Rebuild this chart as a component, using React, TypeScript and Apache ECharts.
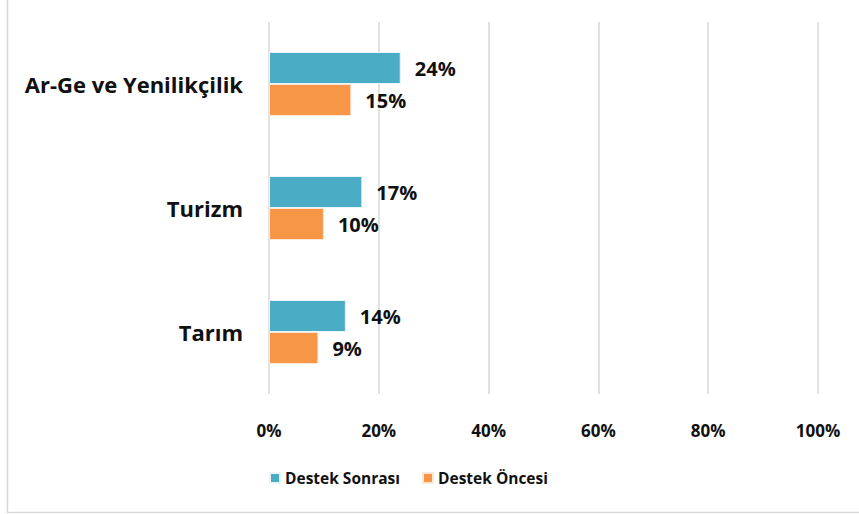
import React, { useEffect, useRef } from "react";
import * as echarts from "echarts";

const categories = ["Tarım", "Turizm", "Ar-Ge ve Yenilikçilik"];
const sonrasi = [14, 17, 24];
const oncesi = [9, 10, 15];
const seriesNames = ["Destek Sonrası", "Destek Öncesi"];

const FONT = "'Open Sans', Lato, sans-serif";

export default function App() {
  const ref = useRef<HTMLDivElement>(null);
  useEffect(() => {
    document.body.style.margin = "0";
    const chart = echarts.init(ref.current!, undefined, { renderer: "svg" });
    const labelCfg = {
      show: true,
      position: "right" as const,
      distance: 14,
      formatter: "{c}%",
      fontFamily: FONT,
      fontWeight: "bold" as const,
      fontSize: 20,
      color: "#111",
    };
    chart.setOption({
      animation: false,
      backgroundColor: "#fff",
      textStyle: { fontFamily: FONT },
      grid: { left: 269, right: 41, top: 22, bottom: 120, containLabel: false },
      legend: {
        left: 264,
        top: 465,
        itemWidth: 10,
        itemHeight: 10,
        itemGap: 22,
        icon: "rect",
        textStyle: { fontFamily: FONT, fontWeight: "bold", fontSize: 15.5, color: "#111" },
        data: seriesNames,
      },
      xAxis: {
        type: "value",
        min: 0,
        max: 100,
        interval: 20,
        axisLine: { show: false },
        axisTick: { show: false },
        splitLine: { lineStyle: { color: "#d9d9d9", width: 1.5 } },
        axisLabel: {
          formatter: "{value}%",
          margin: 28,
          fontFamily: FONT,
          fontWeight: "bold",
          fontSize: 17,
          color: "#111",
        },
      },
      yAxis: {
        type: "category",
        data: categories,
        axisLine: { show: false },
        axisTick: { show: false },
        axisLabel: {
          margin: 26,
          fontFamily: FONT,
          fontWeight: "bold",
          fontSize: 22,
          color: "#111",
        },
      },
      series: [
        {
          name: seriesNames[0],
          type: "bar",
          data: sonrasi,
          barWidth: 32,
          barGap: "0%",
          itemStyle: { color: "#4BACC6", borderColor: "#e8f4f8", borderWidth: 1 },
          label: labelCfg,
        },
        {
          name: seriesNames[1],
          type: "bar",
          data: oncesi,
          barWidth: 32,
          barGap: "0%",
          itemStyle: { color: "#F79646", borderColor: "#fde8d8", borderWidth: 1 },
          label: labelCfg,
        },
      ],
      graphic: [
        { type: "line", shape: { x1: 7.5, y1: 0, x2: 7.5, y2: 512.5 }, style: { stroke: "#d9d9d9", lineWidth: 1.5 } },
        { type: "line", shape: { x1: 7, y1: 512.5, x2: 859, y2: 512.5 }, style: { stroke: "#d9d9d9", lineWidth: 1.5 } },
      ],
    });
    return () => chart.dispose();
  }, []);
  return <div ref={ref} style={{ width: 859, height: 514 }} />;
}
